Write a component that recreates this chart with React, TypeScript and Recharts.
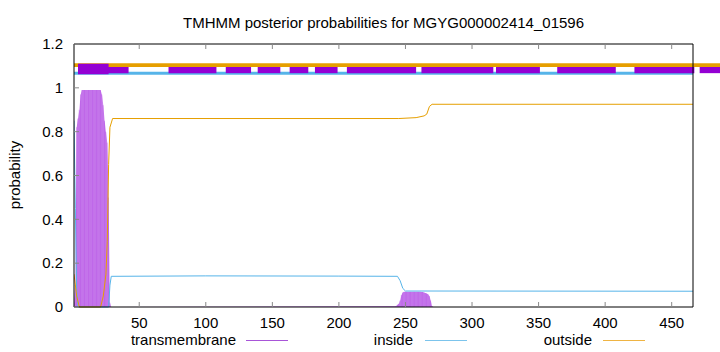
import React from 'react';
import { ComposedChart, Line, Area, Bar, XAxis, YAxis, ReferenceArea } from 'recharts';

const TITLE = 'TMHMM posterior probabilities for MGYG000002414_01596';
const FONT = '"Liberation Sans", Arial, sans-serif';

const xTicks = [50, 100, 150, 200, 250, 300, 350, 400, 450];
const yTicks = [0, 0.2, 0.4, 0.6, 0.8, 1, 1.2];

// [residue, probability]
const insidePoints: [number, number][] = [
  [1, 0.85], [2, 0.45], [3, 0.08], [4, 0], [27, 0], [28, 0.1], [29, 0.14],
  [100, 0.142], [200, 0.141], [244, 0.14], [246, 0.12], [248, 0.085],
  [250, 0.073], [466, 0.072],
];

const outsidePoints: [number, number][] = [
  [1, 0.15], [3, 0.05], [5, 0], [21, 0], [23, 0.05], [25, 0.15], [26, 0.3],
  [27, 0.65], [28, 0.82], [30, 0.86], [245, 0.86], [258, 0.864], [264, 0.872],
  [266, 0.88], [268, 0.915], [270, 0.925], [466, 0.925],
];

const tmPoints: [number, number][] = [
  [1, 0.02], [2, 0.1], [3, 0.82], [4, 0.86], [5, 0.9], [6, 0.97], [7, 0.99],
  [8, 0.99], [9, 0.99], [10, 0.99], [11, 0.99], [12, 0.99], [13, 0.99],
  [14, 0.99], [15, 0.99], [16, 0.99], [17, 0.99], [18, 0.99], [19, 0.99],
  [20, 0.99], [21, 0.99], [22, 0.97], [23, 0.92], [24, 0.85], [25, 0.8],
  [26, 0.75], [27, 0.5], [28, 0.02], [29, 0],
  [243, 0.005], [244, 0.01], [245, 0.015], [246, 0.03], [247, 0.055],
  [248, 0.066], [249, 0.07], [250, 0.07], [251, 0.07], [252, 0.07], [253, 0.07],
  [254, 0.07], [255, 0.07], [256, 0.07], [257, 0.07], [258, 0.07], [259, 0.07],
  [260, 0.07], [261, 0.07], [262, 0.069], [263, 0.068], [264, 0.066],
  [265, 0.064], [266, 0.062], [267, 0.058], [268, 0.05], [269, 0.03],
  [270, 0.005], [271, 0],
];

// top strip segments [from, to]
const outsideBand: [number, number][] = [[1, 487]];
const insideBand: [number, number][] = [[1, 466]];
const tmBand: [number, number][] = [
  [4, 42], [72, 108], [115, 134], [139, 156], [163, 177], [182, 199],
  [206, 258], [262, 316], [318, 351], [364, 408], [422, 467], [471, 487],
];
const tmPeakBand: [number, number][] = [[4, 27]];

function buildRows() {
  const rows = new Map<number, any>();
  const put = (pts: [number, number][], key: string) =>
    pts.forEach(([x, v]) => {
      const r = rows.get(x) ?? { x };
      r[key] = v;
      rows.set(x, r);
    });
  put(insidePoints, 'inside');
  put(outsidePoints, 'outside');
  put(tmPoints, 'tm');
  return [...rows.values()].sort((a, b) => a.x - b.x);
}

const rows = buildRows();
const noLabel = () => <g />;

export default function App() {
  const tick = { fontSize: 15, fill: '#000', fontFamily: FONT };
  return (
    <div style={{ position: 'absolute', left: 0, top: 0, width: 720, height: 352, background: '#fff' }}>
      <ComposedChart
        width={720}
        height={352}
        data={rows}
        margin={{ top: 43, right: 26, bottom: 15, left: 0 }}
      >
        <XAxis
          dataKey="x"
          type="number"
          domain={[1, 466]}
          ticks={xTicks}
          tick={tick}
          tickSize={-5}
          tickMargin={15}
          height={30}
          stroke="#000"
          tickLine={{ stroke: '#888' }}
          allowDataOverflow
        />
        <XAxis
          xAxisId="top"
          dataKey="x"
          orientation="top"
          type="number"
          domain={[1, 466]}
          ticks={xTicks}
          tick={noLabel}
          tickSize={-5}
          height={1}
          stroke="#000"
          tickLine={{ stroke: '#888' }}
          allowDataOverflow
        />
        <YAxis
          type="number"
          domain={[0, 1.2]}
          ticks={yTicks}
          tick={tick}
          tickSize={-5}
          tickMargin={16}
          width={74}
          stroke="#000"
          tickLine={{ stroke: '#888' }}
        />
        <YAxis
          yAxisId="right"
          orientation="right"
          type="number"
          domain={[0, 1.2]}
          ticks={yTicks}
          tick={noLabel}
          tickSize={-5}
          width={1}
          stroke="#000"
          tickLine={{ stroke: '#888' }}
        />

        {outsideBand.map(([a, b], i) => (
          <ReferenceArea key={'o' + i} x1={a} x2={b} y1={1.095} y2={1.112} fill="#e69f00" fillOpacity={1} stroke="none" ifOverflow="visible" />
        ))}
        {insideBand.map(([a, b], i) => (
          <ReferenceArea key={'i' + i} x1={a} x2={b} y1={1.06} y2={1.073} fill="#56b4e9" fillOpacity={1} stroke="none" ifOverflow="visible" />
        ))}
        {tmBand.map(([a, b], i) => (
          <ReferenceArea key={'t' + i} x1={a} x2={b} y1={1.067} y2={1.095} fill="#9400d3" fillOpacity={1} stroke="none" ifOverflow="visible" />
        ))}
        {tmPeakBand.map(([a, b], i) => (
          <ReferenceArea key={'p' + i} x1={a} x2={b} y1={1.062} y2={1.11} fill="#9400d3" fillOpacity={1} stroke="none" ifOverflow="visible" />
        ))}

        <Area
          dataKey="tm"
          type="linear"
          fill="#cf8ef0"
          fillOpacity={1}
          stroke="none"
          connectNulls
          isAnimationActive={false}
        />
        <Bar dataKey="tm" barSize={1} fill="#9400d3" fillOpacity={0.28} isAnimationActive={false} />
        <Line dataKey="inside" type="linear" stroke="#56b4e9" strokeWidth={1} dot={false} connectNulls isAnimationActive={false} />
        <Line dataKey="outside" type="linear" stroke="#e69f00" strokeWidth={1} dot={false} connectNulls isAnimationActive={false} />
      </ComposedChart>

      <svg width={720} height={352} style={{ position: 'absolute', left: 0, top: 0, pointerEvents: 'none' }} fontFamily={FONT} fontSize={15}>
        <text x={383.5} y={28} textAnchor="middle">{TITLE}</text>
        <text transform="translate(20,175) rotate(-90)" textAnchor="middle">probability</text>
        <text x={236} y={345} textAnchor="end">transmembrane</text>
        <line x1={246} x2={288} y1={340.5} y2={340.5} stroke="#a855d8" />
        <text x={413} y={345} textAnchor="end">inside</text>
        <line x1={425} x2={467} y1={340.5} y2={340.5} stroke="#7cc4ec" />
        <text x={592} y={345} textAnchor="end">outside</text>
        <line x1={603} x2={645} y1={340.5} y2={340.5} stroke="#efb443" />
      </svg>
    </div>
  );
}
